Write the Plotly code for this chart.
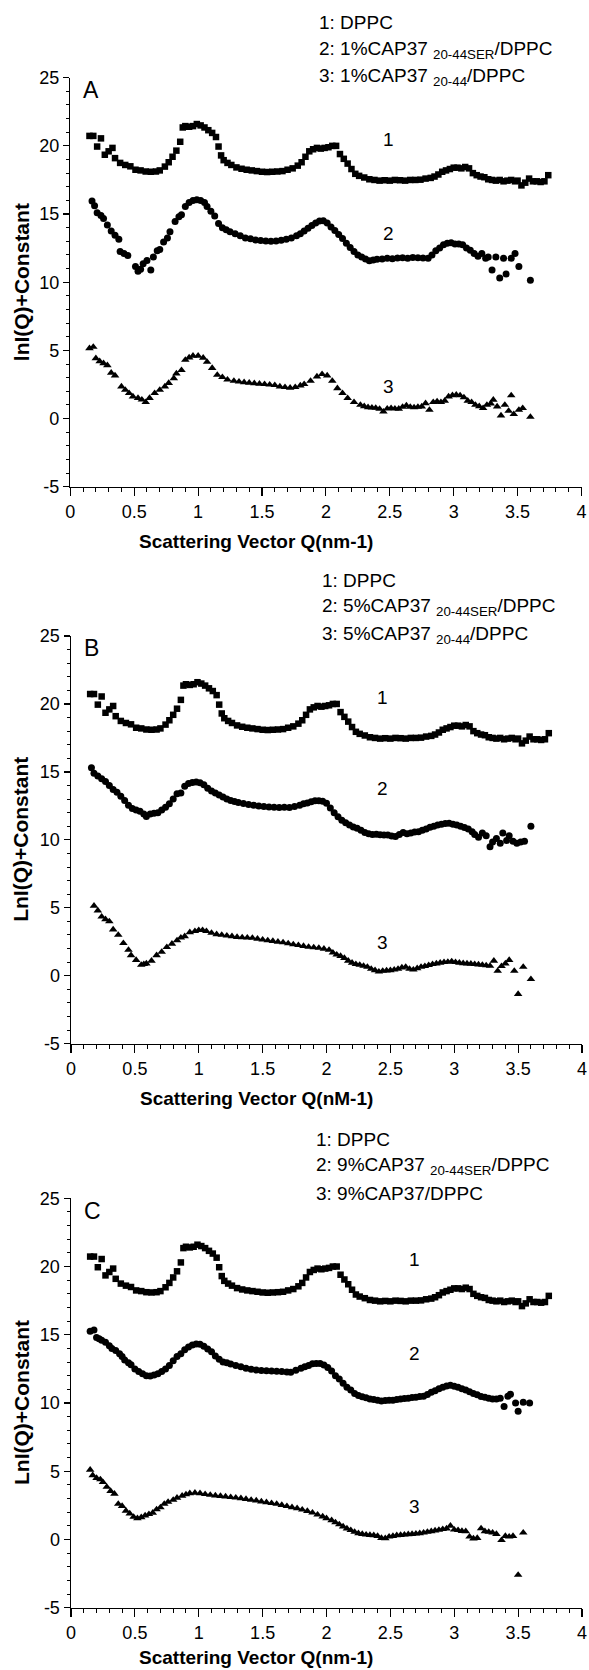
import plotly.graph_objects as go

W, H = 589, 1670
FONT = "Liberation Sans, Arial, Helvetica, sans-serif"

# ---------------- data ----------------
# 1: DPPC (same in all three panels)
dppc_q = [0.15,0.18,0.21,0.24,0.27,0.30,0.33,0.35,0.39,0.43,0.47,0.51,0.55,0.59,0.63,0.67,0.70,0.74,0.77,0.80,
          0.83,0.86,0.88,0.90,0.93,0.96,0.99,1.02,1.05,1.08,1.11,1.14,1.16,1.18,1.20,1.23,1.26,1.30,1.34,1.38,
          1.42,1.46,1.50,1.54,1.58,1.62,1.66,1.70,1.74,1.78,1.81,1.84,1.87,1.90,1.93,1.96,1.99,2.02,2.05,2.08,
          2.11,2.14,2.17,2.20,2.23,2.26,2.30,2.34,2.38,2.42,2.46,2.50,2.54,2.58,2.62,2.66,2.70,2.74,2.78,2.82,
          2.85,2.88,2.91,2.94,2.97,3.00,3.03,3.06,3.09,3.12,3.15,3.18,3.21,3.24,3.27,3.30,3.33,3.36,3.39,3.42,
          3.45,3.48,3.50,3.53,3.56,3.59,3.62,3.65,3.68,3.71,3.74]
dppc_y = [20.73,20.73,19.95,20.55,19.35,19.6,19.85,19.1,18.75,18.6,18.5,18.25,18.2,18.12,18.1,18.12,18.2,18.48,18.8,19.2,
          19.65,20.3,21.35,21.45,21.4,21.45,21.6,21.5,21.35,21.15,20.95,20.65,19.95,19.3,18.95,18.75,18.6,18.42,18.32,18.25,
          18.2,18.15,18.1,18.08,18.1,18.12,18.15,18.25,18.35,18.55,18.8,19.2,19.6,19.75,19.85,19.8,19.85,19.9,20.0,20.0,
          19.4,19.05,18.7,18.3,17.95,17.8,17.68,17.55,17.5,17.45,17.48,17.45,17.5,17.48,17.45,17.5,17.5,17.52,17.6,17.65,
          17.75,17.9,18.1,18.2,18.3,18.4,18.4,18.35,18.45,18.35,18.0,17.85,17.75,17.7,17.55,17.5,17.45,17.5,17.4,17.45,
          17.5,17.4,17.45,17.1,17.3,17.6,17.4,17.4,17.35,17.4,17.85]

# Panel A
a2_q = [0.17,0.19,0.21,0.24,0.26,0.29,0.32,0.35,0.38,0.39,0.42,0.45,0.51,0.53,0.55,0.57,0.60,0.63,0.65,0.68,
        0.70,0.73,0.76,0.78,0.82,0.85,0.87,0.90,0.93,0.96,0.99,1.02,1.05,1.07,1.10,1.13,1.16,1.19,1.22,1.25,
        1.29,1.33,1.37,1.41,1.45,1.49,1.53,1.57,1.61,1.65,1.69,1.73,1.77,1.80,1.83,1.86,1.89,1.92,1.95,1.98,
        2.01,2.04,2.07,2.10,2.13,2.16,2.19,2.22,2.25,2.28,2.31,2.34,2.37,2.40,2.44,2.48,2.52,2.56,2.60,2.64,
        2.68,2.72,2.76,2.80,2.83,2.86,2.89,2.92,2.95,2.98,3.01,3.04,3.07,3.10,3.13,3.16,3.19,3.22,3.25,3.27,
        3.30,3.33,3.36,3.39,3.41,3.45,3.48,3.51,3.60]
a2_y = [15.95,15.6,15.1,14.9,14.68,14.2,13.75,13.45,13.15,12.25,12.1,11.95,11.15,10.8,10.95,11.35,11.6,10.9,11.85,12.3,
        12.4,12.95,13.25,13.7,14.45,14.8,14.95,15.55,15.85,16.0,16.05,16.0,15.85,15.55,15.2,14.85,14.3,14.0,13.85,13.7,
        13.55,13.4,13.25,13.18,13.1,13.05,13.02,13.0,13.02,13.08,13.15,13.25,13.4,13.55,13.75,13.95,14.15,14.35,14.48,14.5,
        14.35,14.05,13.8,13.5,13.2,12.85,12.55,12.25,12.0,11.85,11.7,11.58,11.62,11.68,11.7,11.75,11.72,11.78,11.8,11.75,
        11.82,11.8,11.78,11.75,12.0,12.3,12.5,12.75,12.85,12.9,12.8,12.8,12.75,12.5,12.35,12.1,11.9,12.1,11.75,11.85,
        10.9,11.85,10.3,11.75,10.6,11.75,12.1,11.15,10.15]
a3_q = [0.15,0.18,0.20,0.23,0.26,0.29,0.32,0.35,0.40,0.43,0.46,0.49,0.53,0.56,0.59,0.62,0.66,0.70,0.74,0.77,
        0.81,0.83,0.87,0.90,0.93,0.96,1.00,1.04,1.07,1.11,1.15,1.19,1.23,1.28,1.32,1.36,1.40,1.44,1.48,1.52,
        1.56,1.60,1.64,1.68,1.72,1.76,1.80,1.83,1.88,1.93,1.97,2.01,2.05,2.09,2.13,2.17,2.22,2.27,2.30,2.33,
        2.36,2.39,2.42,2.45,2.48,2.51,2.54,2.57,2.60,2.63,2.66,2.69,2.72,2.75,2.78,2.81,2.84,2.87,2.90,2.93,
        2.96,2.99,3.02,3.05,3.08,3.11,3.14,3.17,3.20,3.23,3.26,3.29,3.31,3.34,3.37,3.40,3.43,3.45,3.47,3.51,
        3.54,3.60]
a3_y = [5.15,5.25,4.42,4.2,4.05,3.9,3.35,3.15,2.35,2.1,1.86,1.61,1.5,1.38,1.2,1.5,1.86,2.1,2.35,2.6,
        2.95,3.3,3.55,4.3,4.47,4.6,4.6,4.45,4.15,3.7,3.2,3.03,2.85,2.76,2.7,2.66,2.62,2.58,2.55,2.52,
        2.48,2.45,2.35,2.3,2.25,2.3,2.42,2.52,2.76,3.08,3.25,3.15,2.76,2.22,1.86,1.49,1.2,1.0,0.9,0.82,
        0.8,0.78,0.7,0.5,0.72,0.76,0.72,0.71,0.85,0.95,0.85,0.81,0.85,0.88,1.12,0.63,1.2,1.25,1.2,1.3,
        1.61,1.7,1.74,1.69,1.55,1.3,1.2,1.0,0.9,0.76,1.0,1.1,1.37,0.88,0.22,1.0,0.56,1.69,0.32,0.63,
        0.76,0.12]

# Panel B
b2_q = [0.16,0.18,0.21,0.24,0.27,0.30,0.33,0.36,0.39,0.42,0.45,0.48,0.51,0.54,0.57,0.59,0.62,0.65,0.68,0.71,
        0.74,0.77,0.80,0.83,0.86,0.89,0.92,0.95,0.98,1.01,1.04,1.07,1.10,1.13,1.16,1.19,1.22,1.25,1.28,1.31,
        1.35,1.39,1.43,1.47,1.51,1.55,1.59,1.63,1.67,1.71,1.75,1.79,1.82,1.85,1.88,1.91,1.94,1.97,2.00,2.03,
        2.06,2.09,2.12,2.15,2.18,2.21,2.24,2.27,2.30,2.33,2.36,2.39,2.42,2.45,2.48,2.51,2.54,2.57,2.60,2.63,
        2.66,2.69,2.72,2.75,2.78,2.81,2.84,2.87,2.90,2.93,2.96,2.99,3.02,3.05,3.08,3.11,3.14,3.16,3.19,3.22,
        3.25,3.28,3.30,3.33,3.36,3.38,3.41,3.43,3.46,3.49,3.52,3.55,3.60]
b2_y = [15.3,14.9,14.7,14.5,14.3,14.0,13.7,13.5,13.2,12.9,12.55,12.3,12.2,12.1,11.9,11.72,11.9,11.95,12.0,12.2,
        12.4,12.65,13.0,13.4,13.45,13.95,14.15,14.22,14.25,14.2,14.05,13.8,13.6,13.45,13.3,13.15,13.0,12.9,12.82,12.75,
        12.68,12.6,12.55,12.5,12.45,12.42,12.4,12.38,12.4,12.38,12.45,12.55,12.65,12.72,12.8,12.88,12.88,12.84,12.7,12.35,
        12.0,11.7,11.45,11.25,11.1,10.95,10.85,10.7,10.55,10.45,10.4,10.42,10.38,10.35,10.35,10.28,10.25,10.4,10.55,10.45,
        10.5,10.58,10.6,10.7,10.8,10.92,11.0,11.1,11.15,11.2,11.22,11.15,11.1,11.0,10.9,10.8,10.6,10.4,10.2,10.5,
        10.3,9.5,9.85,10.1,9.75,10.5,9.95,10.3,9.9,9.75,9.85,9.9,11.0]
b3_q = [0.18,0.21,0.24,0.27,0.30,0.33,0.37,0.41,0.45,0.47,0.51,0.55,0.57,0.59,0.63,0.67,0.71,0.75,0.79,0.83,
        0.86,0.89,0.93,0.97,1.00,1.03,1.06,1.10,1.14,1.18,1.22,1.26,1.30,1.34,1.38,1.42,1.46,1.50,1.54,1.58,
        1.62,1.66,1.70,1.74,1.78,1.82,1.86,1.90,1.94,1.98,2.02,2.05,2.08,2.11,2.14,2.17,2.20,2.23,2.26,2.29,
        2.32,2.35,2.38,2.41,2.44,2.47,2.50,2.53,2.56,2.59,2.62,2.65,2.68,2.71,2.74,2.77,2.80,2.83,2.86,2.89,
        2.92,2.95,2.98,3.01,3.04,3.07,3.10,3.13,3.16,3.19,3.22,3.25,3.28,3.31,3.34,3.37,3.40,3.43,3.47,3.50,
        3.54,3.60]
b3_y = [5.15,4.8,4.35,4.15,4.0,3.4,3.0,2.4,1.9,1.5,1.15,0.8,0.85,0.9,1.1,1.5,1.75,2.1,2.35,2.6,
        2.8,2.9,3.2,3.28,3.35,3.35,3.28,3.15,3.05,3.0,2.95,2.9,2.85,2.82,2.8,2.78,2.72,2.65,2.6,2.55,
        2.5,2.45,2.38,2.3,2.25,2.18,2.12,2.08,2.05,1.98,1.9,1.7,1.55,1.45,1.3,1.1,0.95,0.85,0.8,0.72,
        0.65,0.5,0.4,0.3,0.35,0.38,0.4,0.45,0.5,0.6,0.65,0.5,0.45,0.55,0.65,0.7,0.78,0.85,0.9,0.95,
        1.0,1.02,1.05,1.0,0.95,0.92,0.9,0.88,0.85,0.82,0.8,0.76,0.72,1.1,0.35,0.7,0.9,1.15,0.35,-1.35,
        0.65,-0.25]

# Panel C
c2_q = [0.15,0.18,0.20,0.22,0.24,0.27,0.30,0.32,0.35,0.38,0.40,0.42,0.45,0.47,0.50,0.53,0.56,0.59,0.62,0.65,
        0.68,0.71,0.74,0.77,0.80,0.83,0.86,0.89,0.92,0.95,0.98,1.01,1.04,1.07,1.10,1.13,1.16,1.19,1.22,1.25,
        1.29,1.33,1.37,1.41,1.45,1.49,1.53,1.57,1.61,1.65,1.69,1.72,1.76,1.80,1.83,1.86,1.89,1.92,1.95,1.98,
        2.01,2.04,2.07,2.10,2.13,2.16,2.19,2.22,2.25,2.28,2.31,2.34,2.37,2.40,2.43,2.46,2.49,2.52,2.55,2.58,
        2.61,2.64,2.67,2.70,2.73,2.76,2.79,2.82,2.85,2.88,2.91,2.94,2.97,3.00,3.03,3.06,3.09,3.12,3.15,3.18,
        3.21,3.24,3.27,3.30,3.33,3.36,3.39,3.42,3.44,3.48,3.50,3.54,3.59]
c2_y = [15.25,15.35,14.8,14.7,14.6,14.45,14.2,14.0,13.85,13.6,13.4,13.15,12.95,12.8,12.5,12.3,12.15,12.0,11.97,12.05,
        12.15,12.3,12.5,12.75,13.1,13.4,13.6,13.9,14.1,14.25,14.32,14.3,14.15,13.95,13.75,13.45,13.2,13.0,12.95,12.85,
        12.75,12.65,12.55,12.48,12.42,12.38,12.36,12.35,12.32,12.3,12.28,12.25,12.4,12.55,12.65,12.75,12.88,12.9,12.9,12.78,
        12.6,12.35,12.0,11.75,11.45,11.15,10.95,10.7,10.55,10.45,10.38,10.3,10.25,10.2,10.15,10.18,10.2,10.2,10.25,10.3,
        10.33,10.35,10.4,10.42,10.48,10.5,10.62,10.78,10.9,11.05,11.15,11.25,11.3,11.22,11.15,11.05,10.95,10.82,10.7,10.6,
        10.48,10.42,10.35,10.3,10.3,10.35,9.75,10.5,10.65,10.0,9.4,10.05,10.0]
c3_q = [0.15,0.17,0.20,0.23,0.25,0.28,0.31,0.34,0.37,0.40,0.43,0.46,0.49,0.52,0.55,0.58,0.61,0.64,0.67,0.70,
        0.73,0.76,0.80,0.83,0.87,0.90,0.93,0.97,1.01,1.05,1.09,1.13,1.17,1.21,1.25,1.29,1.33,1.37,1.41,1.45,
        1.49,1.53,1.57,1.61,1.65,1.69,1.73,1.77,1.81,1.85,1.89,1.93,1.97,2.00,2.04,2.07,2.10,2.13,2.16,2.19,
        2.22,2.25,2.28,2.31,2.34,2.37,2.40,2.43,2.46,2.49,2.52,2.55,2.58,2.61,2.64,2.67,2.70,2.73,2.76,2.79,
        2.82,2.85,2.88,2.91,2.94,2.97,3.00,3.03,3.06,3.09,3.12,3.15,3.18,3.21,3.24,3.27,3.30,3.33,3.37,3.40,
        3.43,3.46,3.50,3.54]
c3_y = [5.1,4.7,4.5,4.4,4.2,3.85,3.55,3.35,2.6,2.45,2.1,1.9,1.65,1.55,1.62,1.75,1.85,1.95,2.2,2.35,
        2.6,2.75,2.9,3.05,3.2,3.3,3.38,3.42,3.38,3.32,3.26,3.22,3.18,3.14,3.1,3.06,3.02,2.96,2.9,2.85,
        2.78,2.72,2.66,2.6,2.52,2.44,2.36,2.28,2.18,2.08,1.96,1.82,1.68,1.55,1.4,1.25,1.1,0.95,0.8,0.68,
        0.55,0.45,0.4,0.35,0.32,0.3,0.25,0.1,0.08,0.2,0.25,0.3,0.32,0.35,0.38,0.4,0.42,0.45,0.5,0.55,
        0.6,0.65,0.7,0.75,0.8,1.0,0.72,0.68,0.62,0.6,0.2,0.07,0.1,0.81,0.6,0.55,0.5,0.4,-0.05,0.25,
        0.2,0.25,-2.6,0.5]

x_ticks = [0, 0.5, 1, 1.5, 2, 2.5, 3, 3.5, 4]
x_tick_labels = ["0", "0.5", "1", "1.5", "2", "2.5", "3", "3.5", "4"]
y_ticks = [-5, 0, 5, 10, 15, 20, 25]
y_tick_labels = ["-5", "0", "5", "10", "15", "20", "25"]

panel_letters = ["A", "B", "C"]
legend_lines = [
    ["1: DPPC", "2: 1%CAP37 <sub>20-44SER</sub>/DPPC", "3: 1%CAP37 <sub>20-44</sub>/DPPC"],
    ["1: DPPC", "2: 5%CAP37 <sub>20-44SER</sub>/DPPC", "3: 5%CAP37 <sub>20-44</sub>/DPPC"],
    ["1: DPPC", "2: 9%CAP37 <sub>20-44SER</sub>/DPPC", "3: 9%CAP37/DPPC"],
]
x_titles = ["Scattering Vector Q(nm-1)", "Scattering Vector Q(nM-1)", "Scattering Vector Q(nm-1)"]
y_titles = ["lnI(Q)+Constant", "LnI(Q)+Constant", "LnI(Q)+Constant"]
series_label_pos = [
    [(2.49, 20.45), (2.49, 13.6), (2.49, 2.35)],
    [(2.44, 20.5), (2.44, 13.75), (2.44, 2.45)],
    [(2.69, 20.5), (2.69, 13.65), (2.69, 2.4)],
]
panel_series = [
    [(dppc_q, dppc_y), (a2_q, a2_y), (a3_q, a3_y)],
    [(dppc_q, dppc_y), (b2_q, b2_y), (b3_q, b3_y)],
    [(dppc_q, dppc_y), (c2_q, c2_y), (c3_q, c3_y)],
]

# ---------------- layout geometry (pixels) ----------------
def px(xp):
    return xp / W

def py(yp):
    return 1 - yp / H

# plot areas: (x_left, x_right, y_top(=25), y_bottom(=-5))
areas = [(70.3, 581.5, 77.7, 486.7), (71.0, 582.0, 636.0, 1043.7), (71.0, 582.0, 1198.3, 1607.7)]
legend_x = [317, 320, 314]
legend_y = [[22.7, 50.0, 77.3], [580.0, 607.3, 635.0], [1139.0, 1166.0, 1193.3]]
xtitle_y = [541, 1098, 1657]

symbols = [("square", 6.5), ("circle", 7), ("triangle-up", 7.5)]

fig = go.Figure()
layout = dict(
    width=W, height=H, margin=dict(l=0, r=0, t=0, b=0, pad=0, autoexpand=False),
    paper_bgcolor="white", plot_bgcolor="white",
    font=dict(family=FONT, color="black", size=18),
    showlegend=False, annotations=[],
)

for i in range(3):
    sfx = "" if i == 0 else str(i + 1)
    xl, xr, yt, yb = areas[i]
    for (q, y), (sym, sz) in zip(panel_series[i], symbols):
        fig.add_trace(go.Scatter(
            x=q, y=y, mode="markers",
            marker=dict(symbol=sym, size=sz, color="black", line=dict(width=0)),
            xaxis="x" + sfx, yaxis="y" + sfx, cliponaxis=False, hoverinfo="skip",
        ))
    layout["xaxis" + sfx] = dict(
        domain=[px(xl), px(xr)], anchor="y" + sfx, range=[0, 4], automargin=False,
        ticklabeloverflow="allow",
        showline=True, linecolor="black", linewidth=1.5, mirror=False,
        showgrid=False, zeroline=False,
        ticks="outside", ticklen=8, tickwidth=1.2, tickcolor="black",
        tickvals=x_ticks, ticktext=x_tick_labels,
        tickfont=dict(family=FONT, size=18, color="black"),
        minor=dict(ticks="outside", dtick=0.1, tick0=0, ticklen=4, tickwidth=1, tickcolor="black", showgrid=False),
    )
    layout["yaxis" + sfx] = dict(
        domain=[py(yb), py(yt)], anchor="x" + sfx, range=[-5, 25], automargin=False,
        ticklabeloverflow="allow",
        showline=True, linecolor="black", linewidth=1.5, mirror=False,
        showgrid=False, zeroline=False,
        ticks="outside", ticklen=6, tickwidth=1.2, tickcolor="black",
        tickvals=y_ticks, ticktext=y_tick_labels,
        tickfont=dict(family=FONT, size=18, color="black"),
        minor=dict(ticks="outside", dtick=1, tick0=0, ticklen=3, tickwidth=1, tickcolor="black", showgrid=False),
    )
    ann = layout["annotations"]
    # panel letter
    ann.append(dict(text=panel_letters[i], x=0.085, y=24.1, xref="x" + sfx, yref="y" + sfx,
                    xanchor="left", yanchor="middle", showarrow=False,
                    font=dict(family=FONT, size=23, color="black")))
    # series numbers
    for k, (lx, ly) in enumerate(series_label_pos[i]):
        ann.append(dict(text=str(k + 1), x=lx, y=ly, xref="x" + sfx, yref="y" + sfx,
                        xanchor="center", yanchor="middle", showarrow=False,
                        font=dict(family=FONT, size=19, color="black")))
    # legend text
    for line, ly in zip(legend_lines[i], legend_y[i]):
        ann.append(dict(text=line, x=px(legend_x[i]), y=py(ly), xref="paper", yref="paper",
                        xanchor="left", yanchor="middle", showarrow=False,
                        font=dict(family=FONT, size=19, color="black")))
    # axis titles
    ann.append(dict(text="<b>" + x_titles[i] + "</b>", x=px(256), y=py(xtitle_y[i]),
                    xref="paper", yref="paper", xanchor="center", yanchor="middle", showarrow=False,
                    font=dict(family=FONT, size=19, color="black")))
    ann.append(dict(text="<b>" + y_titles[i] + "</b>", x=px(21), y=py((yt + yb) / 2),
                    xref="paper", yref="paper", xanchor="center", yanchor="middle", showarrow=False,
                    textangle=-90, font=dict(family=FONT, size=21, color="black")))

fig.update_layout(**layout)
fig.write_html(
    "out.html",
    config={"displayModeBar": False, "staticPlot": True},
    post_script="document.body.style.margin='0';document.body.style.padding='0';document.body.style.overflow='hidden';",
)
